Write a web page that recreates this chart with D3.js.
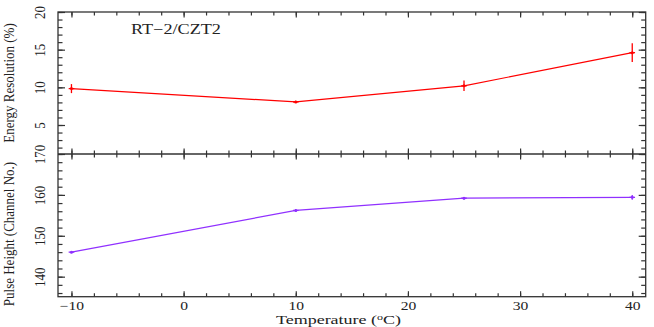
<!DOCTYPE html>
<html>
<head>
<meta charset="utf-8">
<script src="https://cdn.jsdelivr.net/npm/d3@7"></script>
<style>
  body { margin: 0; background: #fff; }
  text { font-family: "Liberation Serif", "Times New Roman", serif; fill: #222; }
</style>
</head>
<body>
<div class="chart"></div>
<script>
// temperatures (deg C)
var temps = [-10, 10, 25, 40];
var tempErr = [0.25, 0.25, 0.25, 0.25];

// energy resolution (%)
var resolution = [9.83, 8.06, 10.2, 14.6];
var resolutionErr = [0.6, 0.15, 0.7, 1.25];

// pulse height (channel no.)
var pulseHeight = [146.0, 156.2, 159.2, 159.4];
var pulseErr = [0.25, 0.3, 0.3, 0.6];

var xTicks = [-10, 0, 10, 20, 30, 40];
var resTicks = [5, 10, 15, 20];
var pulseTicks = [140, 150, 160, 170];

var svgWidth = 654;
var svgHeight = 327;

var left = 58, right = 645.7;
var top1 = 12, mid = 154, bottom2 = 296.7;

var svg = d3.select(".chart")
  .append("svg")
  .attr("width", svgWidth)
  .attr("height", svgHeight);

var xScale = d3.scaleLinear().domain([-11.2, 41.2]).range([left, right]);
var yRes = d3.scaleLinear().domain([1.15, 20]).range([mid, top1]);
var yPulse = d3.scaleLinear().domain([135.1, 170]).range([bottom2, mid]);

var fmt = function (d) { return d < 0 ? "\u2212" + Math.abs(d) : d; };

function minorRange(a, b, step) {
  var out = [];
  for (var v = Math.ceil(a / step) * step; v <= b + 1e-9; v += step) out.push(+v.toFixed(6));
  return out;
}
var xMinor = minorRange(-11.2, 41.2, 2);

function styleAxis(g) {
  g.select(".domain").remove();
  g.selectAll("line").attr("stroke", "#333").attr("stroke-width", 1.2);
}

// x axes: bottom of each panel (ticks up) and top of each panel (ticks down)
[[mid, yRes], [bottom2, yPulse]].forEach(function (p) {
  svg.append("g").attr("transform", `translate(0, ${p[0]})`)
    .call(d3.axisBottom(xScale).tickValues(xTicks).tickSize(-5.5).tickFormat(""))
    .call(styleAxis);
  svg.append("g").attr("transform", `translate(0, ${p[0]})`)
    .call(d3.axisBottom(xScale).tickValues(xMinor).tickSize(-3.5).tickFormat(""))
    .call(styleAxis);
});
[top1, mid].forEach(function (yy) {
  svg.append("g").attr("transform", `translate(0, ${yy})`)
    .call(d3.axisTop(xScale).tickValues(xTicks).tickSize(-5.5).tickFormat(""))
    .call(styleAxis);
  svg.append("g").attr("transform", `translate(0, ${yy})`)
    .call(d3.axisTop(xScale).tickValues(xMinor).tickSize(-3.5).tickFormat(""))
    .call(styleAxis);
});

// x tick labels
svg.append("g").attr("transform", `translate(0, ${bottom2})`)
  .call(d3.axisBottom(xScale).tickValues(xTicks).tickSize(0).tickFormat(fmt))
  .call(function (g) {
    g.select(".domain").remove();
    g.selectAll("text")
      .attr("y", 0).attr("dy", 0)
      .attr("transform", "translate(0, 13.5) scale(1.3, 1)")
      .attr("font-size", "12px")
      .attr("fill", "#222");
  });

// y axes for both panels
function yAxes(scale, major, minorStep) {
  var dom = scale.domain();
  var minor = minorRange(dom[0], dom[1], minorStep);
  svg.append("g").attr("transform", `translate(${left}, 0)`)
    .call(d3.axisLeft(scale).tickValues(major).tickSize(-7).tickFormat(""))
    .call(styleAxis);
  svg.append("g").attr("transform", `translate(${left}, 0)`)
    .call(d3.axisLeft(scale).tickValues(minor).tickSize(-4.5).tickFormat(""))
    .call(styleAxis);
  svg.append("g").attr("transform", `translate(${right}, 0)`)
    .call(d3.axisRight(scale).tickValues(major).tickSize(-7).tickFormat(""))
    .call(styleAxis);
  svg.append("g").attr("transform", `translate(${right}, 0)`)
    .call(d3.axisRight(scale).tickValues(minor).tickSize(-4.5).tickFormat(""))
    .call(styleAxis);
  // rotated tick labels
  svg.append("g").attr("transform", `translate(${left}, 0)`)
    .call(d3.axisLeft(scale).tickValues(major).tickSize(0).tickFormat(fmt))
    .call(function (g) {
      g.select(".domain").remove();
      g.selectAll("text")
        .attr("x", 0).attr("y", 0).attr("dy", 0)
        .attr("text-anchor", "middle")
        .attr("transform", "translate(-13, 0) scale(1.15, 1) rotate(-90)")
        .attr("font-size", "13px")
        .attr("fill", "#222");
    });
}
yAxes(yRes, resTicks, 1);
yAxes(yPulse, pulseTicks, 2);

// frame
svg.append("rect")
  .attr("x", left).attr("y", top1)
  .attr("width", right - left).attr("height", bottom2 - top1)
  .attr("fill", "none").attr("stroke", "#333").attr("stroke-width", 1.3);
svg.append("line")
  .attr("x1", left).attr("x2", right).attr("y1", mid).attr("y2", mid)
  .attr("stroke", "#333").attr("stroke-width", 1.3);

// data series
function drawSeries(yScale, vals, errs, color) {
  var pts = temps.map(function (t, i) {
    return { t: t, v: vals[i], e: errs[i], te: tempErr[i] };
  });
  var line = d3.line().x(d => xScale(d.t)).y(d => yScale(d.v));
  svg.append("path").datum(pts)
    .attr("d", line)
    .attr("fill", "none")
    .attr("stroke", color)
    .attr("stroke-width", 1.2);
  var g = svg.append("g");
  g.selectAll(".ey").data(pts).enter().append("line")
    .attr("x1", d => xScale(d.t)).attr("x2", d => xScale(d.t))
    .attr("y1", d => yScale(d.v - d.e)).attr("y2", d => yScale(d.v + d.e))
    .attr("stroke", color).attr("stroke-width", 1.3);
  g.selectAll(".ex").data(pts).enter().append("line")
    .attr("x1", d => xScale(d.t - d.te)).attr("x2", d => xScale(d.t + d.te))
    .attr("y1", d => yScale(d.v)).attr("y2", d => yScale(d.v))
    .attr("stroke", color).attr("stroke-width", 1.3);
  g.selectAll("circle").data(pts).enter().append("circle")
    .attr("cx", d => xScale(d.t)).attr("cy", d => yScale(d.v))
    .attr("r", 1.5).attr("fill", color);
}
drawSeries(yRes, resolution, resolutionErr, "#ff0000");
drawSeries(yPulse, pulseHeight, pulseErr, "#9030ff");

// titles
svg.append("text")
  .attr("transform", "translate(131, 34) scale(1.3, 1)")
  .attr("font-size", "14px")
  .text("RT\u22122/CZT2");

svg.append("text")
  .attr("transform", `translate(13.5, ${(top1 + mid) / 2}) scale(1.15, 1) rotate(-90)`)
  .attr("text-anchor", "middle")
  .attr("font-size", "13px")
  .text("Energy Resolution (%)");

svg.append("text")
  .attr("transform", `translate(13.5, 234) scale(1.15, 1) rotate(-90)`)
  .attr("text-anchor", "middle")
  .attr("font-size", "13px")
  .text("Pulse Height (Channel No.)");

var xt = svg.append("text")
  .attr("transform", "translate(338.5, 324) scale(1.5, 1)")
  .attr("text-anchor", "middle")
  .attr("font-size", "12px");
xt.append("tspan").text("Temperature (");
xt.append("tspan").attr("font-size", "8px").attr("dy", -4).text("o");
xt.append("tspan").attr("dy", 4).text("C)");
</script>
</body>
</html>
